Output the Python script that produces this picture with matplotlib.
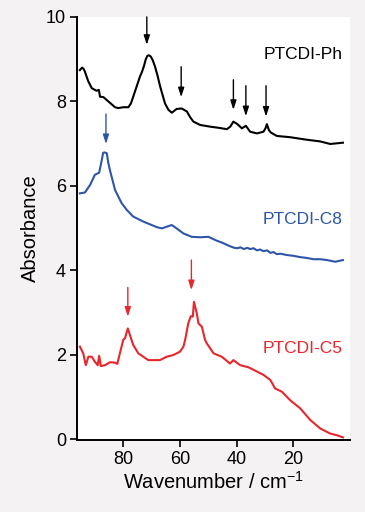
import matplotlib
matplotlib.use("Agg")
import matplotlib.pyplot as plt
import numpy as np

plt.rcParams['font.family'] = ['Liberation Sans', 'DejaVu Sans']
plt.rcParams['mathtext.default'] = 'regular'

# PTCDI-Ph (black)
ph_x = [95.2, 94.4, 93.8, 93.4, 92.8, 92.2, 91.0, 89.3, 88.5, 88.1, 86.9, 85.2, 82.8, 81.7,
        79.9, 78.1, 77.2, 76.4, 75.2, 74.0, 73.3, 72.6, 72.0, 71.4, 70.8, 70.2, 69.5, 68.7,
        67.8, 66.9, 65.2, 64.0, 62.8, 61.1, 59.3, 57.5, 56.3, 55.2, 52.8, 49.3, 46.0, 43.4,
        42.2, 41.1, 39.7, 38.1, 36.7, 35.2, 32.8, 30.5, 29.8, 29.3, 28.6, 27.9, 25.8, 21.1,
        15.2, 10.5, 7.0, 2.5]
ph_y = [8.74, 8.80, 8.76, 8.70, 8.58, 8.47, 8.31, 8.25, 8.27, 8.11, 8.10, 8.00, 7.86, 7.84,
        7.86, 7.86, 7.95, 8.11, 8.35, 8.59, 8.70, 8.84, 8.99, 9.08, 9.09, 9.06, 8.97, 8.82,
        8.60, 8.35, 7.95, 7.80, 7.73, 7.82, 7.83, 7.76, 7.62, 7.52, 7.44, 7.40, 7.37, 7.34,
        7.40, 7.52, 7.46, 7.36, 7.42, 7.28, 7.24, 7.28, 7.36, 7.46, 7.32, 7.26, 7.18, 7.15,
        7.09, 7.05, 6.99, 7.02]

# PTCDI-C8 (blue)
c8_x = [95.2, 93.4, 91.6, 89.9, 88.4, 87.5, 87.0, 86.5, 85.7, 85.2, 84.6, 82.8, 80.5, 78.7,
        76.4, 72.8, 68.1, 66.3, 64.6, 62.8, 61.1, 58.7, 55.8, 52.8, 49.9, 47.0, 45.0, 43.4,
        42.0, 40.8, 39.9, 38.6, 37.4, 36.2, 35.2, 34.0, 32.8, 31.7, 30.5, 29.2, 28.0, 27.0,
        25.8, 24.5, 22.3, 19.9, 17.6, 15.2, 12.9, 10.5, 8.1, 5.2, 2.5]
c8_y = [5.82, 5.84, 6.02, 6.26, 6.31, 6.60, 6.78, 6.79, 6.77, 6.55, 6.37, 5.90, 5.59, 5.43,
        5.27, 5.15, 5.02, 4.99, 5.03, 5.07, 4.99, 4.87, 4.79, 4.78, 4.79, 4.70, 4.65, 4.60,
        4.56, 4.53, 4.52, 4.54, 4.50, 4.53, 4.50, 4.52, 4.47, 4.49, 4.45, 4.47, 4.41, 4.43,
        4.38, 4.39, 4.36, 4.34, 4.31, 4.29, 4.26, 4.26, 4.24, 4.20, 4.24]

# PTCDI-C5 (red)
c5_x = [95.2, 94.0, 93.1, 92.2, 91.0, 89.9, 88.9, 88.4, 87.8, 86.3, 84.6, 82.8, 82.0, 81.1,
        79.9, 79.3, 78.3, 77.0, 76.4, 74.6, 71.1, 67.0, 64.6, 62.3, 59.9, 58.7, 58.1, 57.0,
        56.1, 55.4, 55.0, 54.0, 53.4, 52.2, 51.1, 50.5, 48.1, 45.2, 42.3, 41.1, 38.7, 35.8,
        34.0, 30.5, 28.1, 26.4, 24.0, 21.1, 17.6, 14.0, 10.5, 7.0, 4.6, 2.5]
c5_y = [2.19, 2.03, 1.75, 1.95, 1.95, 1.83, 1.75, 1.97, 1.73, 1.75, 1.82, 1.81, 1.78, 2.03,
        2.35, 2.39, 2.62, 2.35, 2.23, 2.03, 1.87, 1.87, 1.95, 1.99, 2.07, 2.19, 2.35, 2.74,
        2.91, 2.90, 3.25, 2.98, 2.74, 2.66, 2.35, 2.27, 2.03, 1.95, 1.79, 1.87, 1.75, 1.70,
        1.64, 1.52, 1.40, 1.20, 1.12, 0.92, 0.73, 0.45, 0.25, 0.13, 0.09, 0.04]

# arrows: (x, y_top, y_tip)
ph_arrows = [(71.6, 10.0, 9.34), (59.5, 8.82, 8.10), (41.1, 8.51, 7.80),
             (36.7, 8.37, 7.65), (29.6, 8.37, 7.64)]
c8_arrows = [(86.0, 7.70, 6.99)]
c5_arrows = [(78.3, 3.59, 2.90), (55.9, 4.24, 3.53)]

black = '#000000'
blue = '#2d56a8'
red = '#e8262b'

fig = plt.figure(figsize=(3.65, 5.12), dpi=100, facecolor='#f4f2f2')
ax = fig.add_axes([0.211, 0.140, 0.748, 0.827])
ax.set_facecolor('white')

for xs, ys, c in [(ph_x, ph_y, black), (c8_x, c8_y, blue), (c5_x, c5_y, red)]:
    ax.plot(xs, ys, color=c, lw=1.5, solid_joinstyle='round')

for arrows, c in [(ph_arrows, black), (c8_arrows, blue), (c5_arrows, red)]:
    for x, yt, yh in arrows:
        ax.annotate('', xy=(x, yh), xytext=(x, yt),
                    arrowprops=dict(arrowstyle='-|>,head_length=0.55,head_width=0.18',
                                    color=c, lw=1.0, shrinkA=0, shrinkB=0))

ax.text(2.5, 9.1, 'PTCDI-Ph', color=black, fontsize=12.5, ha='right', va='center')
ax.text(2.5, 5.19, 'PTCDI-C8', color=blue, fontsize=12.5, ha='right', va='center')
ax.text(2.5, 2.15, 'PTCDI-C5', color=red, fontsize=12.5, ha='right', va='center')

ax.set_xlim(96.2, 0)
ax.set_ylim(-0.03, 10)
ax.set_xticks([80, 60, 40, 20])
ax.set_yticks([0, 2, 4, 6, 8, 10])
ax.tick_params(direction='out', length=5, width=1.2, labelsize=13, pad=3)
for s in ['top', 'right']:
    ax.spines[s].set_visible(False)
for s in ['left', 'bottom']:
    ax.spines[s].set_linewidth(1.4)
ax.spines['left'].set_bounds(0, 10)

ax.set_xlabel('Wavenumber / cm$^{-1}$', fontsize=14.5, labelpad=2)
ax.set_ylabel('Absorbance', fontsize=14.5, labelpad=4)

fig.savefig('out.png', dpi=100, facecolor=fig.get_facecolor())
